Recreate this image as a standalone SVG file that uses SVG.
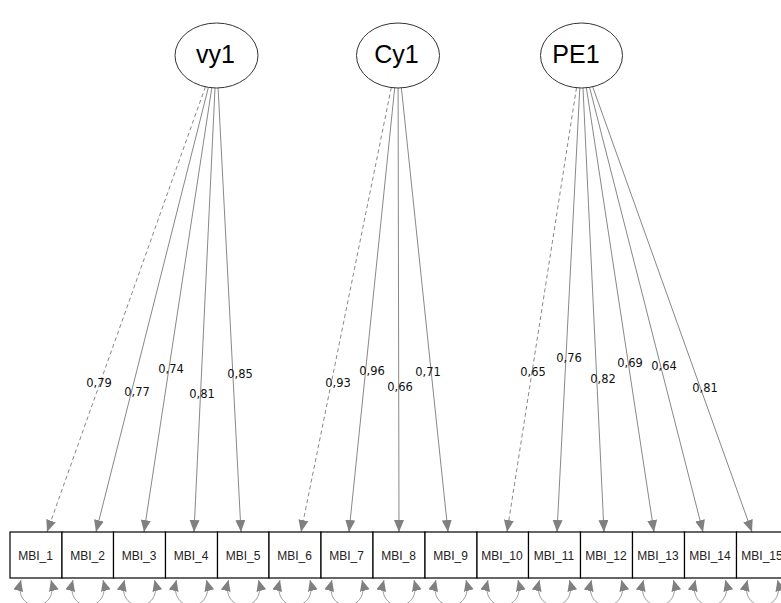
<svg xmlns="http://www.w3.org/2000/svg" width="781" height="603" viewBox="0 0 781 603">
<style>
.lat ellipse{fill:#fff;stroke:#333;stroke-width:1}
.lat text{font-family:"Liberation Sans",Arial,sans-serif;font-size:25px;fill:#000;text-anchor:middle}
.obs rect{fill:#fff;stroke:#000;stroke-width:1.2}
.obs text{font-family:"Liberation Sans",Arial,sans-serif;font-size:12px;fill:#222;text-anchor:middle}
.ld{stroke:#888;stroke-width:1;fill:none;marker-end:url(#ah)}
.dash{stroke-dasharray:4 3}
.var{stroke:#999;stroke-width:1;fill:none;marker-start:url(#vh);marker-end:url(#vh)}
.lbl{font-family:"DejaVu Sans",Verdana,sans-serif;font-size:11.5px;fill:#111;text-anchor:middle}
</style>
<defs>
<marker id="ah" markerUnits="userSpaceOnUse" markerWidth="14" markerHeight="12" refX="12" refY="5" orient="auto">
<path d="M0,0 L12,5 L0,10 Z" fill="#808080"/>
</marker>
<marker id="vh" markerUnits="userSpaceOnUse" markerWidth="13" markerHeight="12" refX="11" refY="5" orient="auto-start-reverse">
<path d="M0,0 L11,5 L0,10 Z" fill="#808080"/>
</marker>
</defs>
<rect width="781" height="603" fill="#fff"/>
<g id="connectors">
<line class="ld dash" x1="205.4" y1="86.8" x2="47" y2="532"/>
<line class="ld" x1="208.4" y1="87.4" x2="96" y2="532"/>
<line class="ld" x1="211.8" y1="87.8" x2="144" y2="532"/>
<line class="ld" x1="215" y1="88" x2="194" y2="532"/>
<line class="ld" x1="218.1" y1="88" x2="241" y2="532"/>
<line class="ld dash" x1="391.3" y1="87.6" x2="301" y2="532"/>
<line class="ld" x1="394.7" y1="87.9" x2="349" y2="532"/>
<line class="ld" x1="398.1" y1="88" x2="399" y2="532"/>
<line class="ld" x1="401.4" y1="87.9" x2="448" y2="532"/>
<line class="ld dash" x1="576.5" y1="87.8" x2="507" y2="532"/>
<line class="ld" x1="579.8" y1="88" x2="557" y2="532"/>
<line class="ld" x1="583" y1="88" x2="604" y2="532"/>
<line class="ld" x1="586.4" y1="87.8" x2="654" y2="532"/>
<line class="ld" x1="589.6" y1="87.4" x2="703" y2="532"/>
<line class="ld" x1="592.7" y1="86.8" x2="752" y2="532"/>
<text class="lbl" x="99" y="387">0,79</text>
<text class="lbl" x="137" y="396">0,77</text>
<text class="lbl" x="171" y="373">0,74</text>
<text class="lbl" x="202" y="398">0,81</text>
<text class="lbl" x="240" y="378">0,85</text>
<text class="lbl" x="338" y="387">0,93</text>
<text class="lbl" x="372" y="375">0,96</text>
<text class="lbl" x="400" y="391">0,66</text>
<text class="lbl" x="428" y="376">0,71</text>
<text class="lbl" x="533" y="376">0,65</text>
<text class="lbl" x="569" y="362">0,76</text>
<text class="lbl" x="603" y="383">0,82</text>
<text class="lbl" x="630" y="367">0,69</text>
<text class="lbl" x="664" y="370">0,64</text>
<text class="lbl" x="705" y="392">0,81</text>
<path class="var" d="M21,580 C12,614 60,614 51,580"/>
<path class="var" d="M73,580 C64,614 112,614 103,580"/>
<path class="var" d="M124.5,580 C115.5,614 163.5,614 154.5,580"/>
<path class="var" d="M176.5,580 C167.5,614 215.5,614 206.5,580"/>
<path class="var" d="M228.5,580 C219.5,614 267.5,614 258.5,580"/>
<path class="var" d="M280,580 C271,614 319,614 310,580"/>
<path class="var" d="M332,580 C323,614 371,614 362,580"/>
<path class="var" d="M384,580 C375,614 423,614 414,580"/>
<path class="var" d="M436,580 C427,614 475,614 466,580"/>
<path class="var" d="M488,580 C479,614 527,614 518,580"/>
<path class="var" d="M539.5,580 C530.5,614 578.5,614 569.5,580"/>
<path class="var" d="M591.5,580 C582.5,614 630.5,614 621.5,580"/>
<path class="var" d="M643.5,580 C634.5,614 682.5,614 673.5,580"/>
<path class="var" d="M695.5,580 C686.5,614 734.5,614 725.5,580"/>
<path class="var" d="M747.5,580 C738.5,614 786.5,614 777.5,580"/>
</g>
<g id="vy1" class="lat"><ellipse cx="216.5" cy="55.5" rx="41.5" ry="32.5"/><text x="215.5" y="63">vy1</text></g>
<g id="Cy1" class="lat"><ellipse cx="398" cy="55.5" rx="41.5" ry="32.5"/><text x="396.5" y="63">Cy1</text></g>
<g id="PE1" class="lat"><ellipse cx="581.5" cy="55.5" rx="41" ry="32.5"/><text x="576" y="63">PE1</text></g>
<g id="MBI_1" class="obs"><rect x="10" y="532" width="52" height="46"/><text x="35.5" y="560">MBI_1</text></g>
<g id="MBI_2" class="obs"><rect x="62" y="532" width="51.5" height="46"/><text x="87.5" y="560">MBI_2</text></g>
<g id="MBI_3" class="obs"><rect x="113.5" y="532" width="52" height="46"/><text x="139" y="560">MBI_3</text></g>
<g id="MBI_4" class="obs"><rect x="165.5" y="532" width="52" height="46"/><text x="191" y="560">MBI_4</text></g>
<g id="MBI_5" class="obs"><rect x="217.5" y="532" width="51.5" height="46"/><text x="243" y="560">MBI_5</text></g>
<g id="MBI_6" class="obs"><rect x="269" y="532" width="52" height="46"/><text x="294.5" y="560">MBI_6</text></g>
<g id="MBI_7" class="obs"><rect x="321" y="532" width="52" height="46"/><text x="346.5" y="560">MBI_7</text></g>
<g id="MBI_8" class="obs"><rect x="373" y="532" width="52" height="46"/><text x="398.5" y="560">MBI_8</text></g>
<g id="MBI_9" class="obs"><rect x="425" y="532" width="52" height="46"/><text x="450.5" y="560">MBI_9</text></g>
<g id="MBI_10" class="obs"><rect x="477" y="532" width="51.5" height="46"/><text x="502" y="560">MBI_10</text></g>
<g id="MBI_11" class="obs"><rect x="528.5" y="532" width="52" height="46"/><text x="554" y="560">MBI_11</text></g>
<g id="MBI_12" class="obs"><rect x="580.5" y="532" width="52" height="46"/><text x="606" y="560">MBI_12</text></g>
<g id="MBI_13" class="obs"><rect x="632.5" y="532" width="52" height="46"/><text x="658" y="560">MBI_13</text></g>
<g id="MBI_14" class="obs"><rect x="684.5" y="532" width="52" height="46"/><text x="710" y="560">MBI_14</text></g>
<g id="MBI_15" class="obs"><rect x="736.5" y="532" width="52" height="46"/><text x="762" y="560">MBI_15</text></g>
</svg>
